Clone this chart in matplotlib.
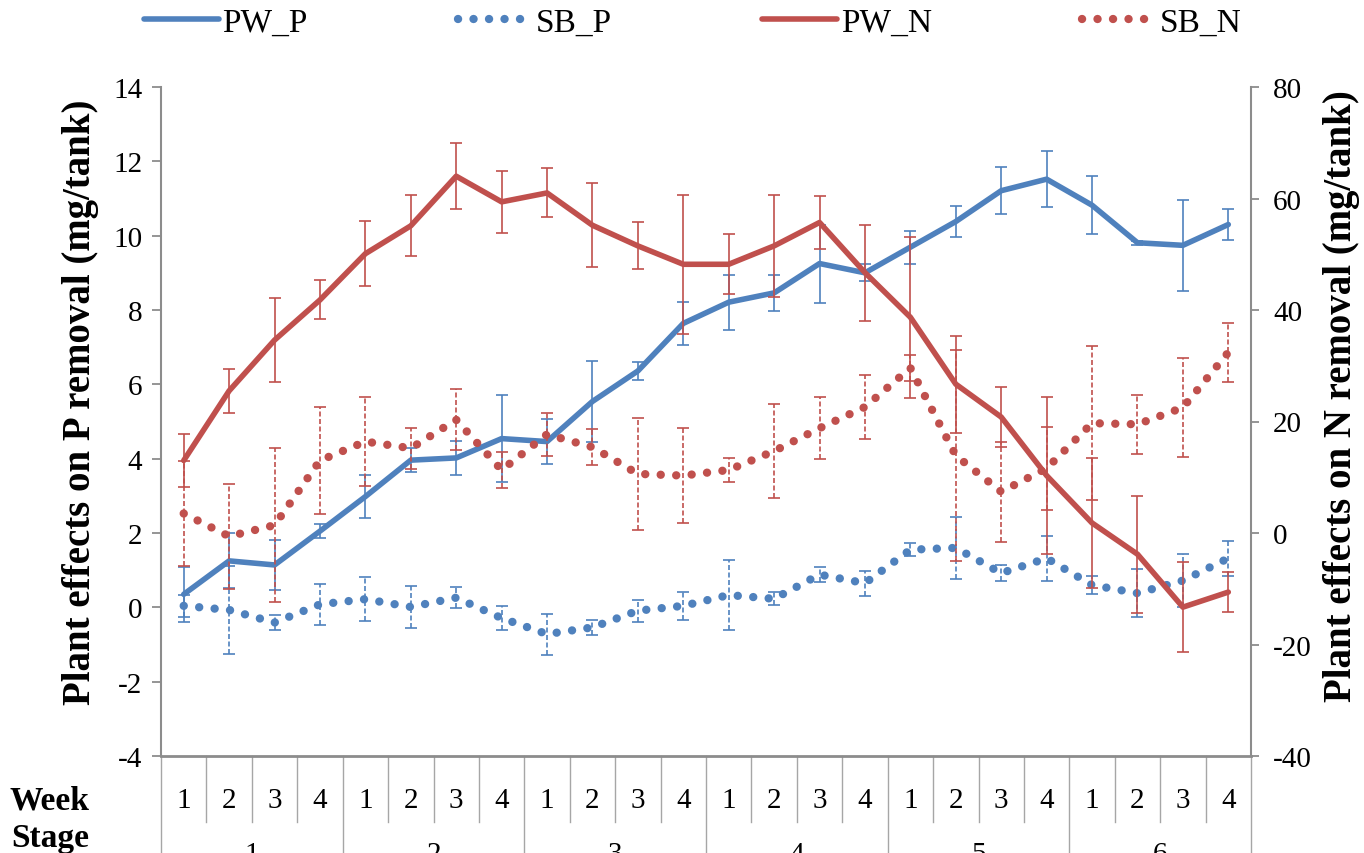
import numpy as np
import matplotlib
matplotlib.use('Agg')
import matplotlib.pyplot as plt
from matplotlib.transforms import blended_transform_factory

# 字体: Times 风格
plt.rcParams['font.family'] = ['Liberation Serif', 'DejaVu Serif']
plt.rcParams['axes.unicode_minus'] = False

# 类别
weeks = ['1', '2', '3', '4'] * 6
stages = ['1', '2', '3', '4', '5', '6']

# P removal (左轴)
pw_p = [0.35, 1.25, 1.14, 2.05, 2.98, 3.96, 4.02, 4.54, 4.46, 5.54, 6.36, 7.64,
        8.21, 8.46, 9.25, 9.0, 9.69, 10.38, 11.21, 11.52, 10.82, 9.81, 9.74, 10.3]
pw_p_err = [0.74, 0.74, 0.67, 0.18, 0.58, 0.33, 0.45, 1.18, 0.6, 1.1, 0.23, 0.57,
            0.74, 0.49, 1.05, 0.23, 0.44, 0.41, 0.63, 0.76, 0.78, 0.05, 1.22, 0.43]
sb_p = [0.04, -0.07, -0.41, 0.08, 0.22, 0.01, 0.26, -0.29, -0.72, -0.54, -0.09, 0.04,
        0.33, 0.23, 0.88, 0.65, 1.55, 1.6, 0.92, 1.32, 0.6, 0.38, 0.72, 1.32]
sb_p_err = [0.29, 1.18, 0.21, 0.55, 0.6, 0.57, 0.29, 0.32, 0.55, 0.2, 0.3, 0.38,
            0.95, 0.18, 0.2, 0.34, 0.17, 0.84, 0.22, 0.6, 0.24, 0.65, 0.72, 0.47]

# N removal (右轴)
pw_n = [13.0, 25.5, 34.6, 41.8, 50.1, 55.1, 64.0, 59.4, 61.0, 55.2, 51.5, 48.2,
        48.2, 51.5, 55.7, 46.7, 38.7, 26.7, 20.8, 10.3, 1.8, -3.8, -13.3, -10.6]
pw_n_err = [4.8, 4.0, 7.5, 3.5, 5.8, 5.5, 5.9, 5.5, 4.4, 7.5, 4.2, 12.5,
            5.4, 9.2, 4.7, 8.6, 14.4, 8.7, 5.3, 14.1, 11.7, 10.5, 8.1, 3.6]
sb_n = [3.5, -0.6, 1.4, 13.0, 16.4, 15.2, 20.3, 11.3, 17.7, 15.4, 10.6, 10.3,
        11.3, 14.7, 18.8, 22.6, 29.6, 13.9, 7.4, 11.6, 19.7, 19.5, 22.5, 32.4]
sb_n_err = [9.4, 9.45, 13.8, 9.6, 7.95, 3.7, 5.5, 3.3, 3.8, 3.2, 10.1, 8.5,
            2.1, 8.4, 5.6, 5.7, 2.3, 18.9, 9.0, 7.5, 13.8, 5.3, 8.9, 5.3]

blue = '#4F81BD'
red = '#C0504D'
grey = '#8C8C8C'

W, H = 1364, 854
fig = plt.figure(figsize=(W / 100, H / 100), dpi=100)
ax = fig.add_axes([161 / W, 1 - 757 / H, (1251 - 161) / W, (757 - 88) / H])
ax2 = ax.twinx()

x = np.arange(len(weeks)) + 0.5


def draw(axis, vals, errs, color, dotted):
    if dotted:
        line, = axis.plot(x, vals, color=color, lw=6, linestyle=(0, (0.01, 1.85)),
                          dash_capstyle='round')
    else:
        line, = axis.plot(x, vals, color=color, lw=4, solid_capstyle='round',
                          solid_joinstyle='round')
    eb = axis.errorbar(x, vals, yerr=errs, fmt='none', ecolor=color,
                       elinewidth=1.2, capsize=4.5, capthick=1.2)
    if dotted:
        eb[2][0].set_linestyle((0, (3, 1.5)))
    return line


l1 = draw(ax, pw_p, pw_p_err, blue, False)
l2 = draw(ax, sb_p, sb_p_err, blue, True)
l3 = draw(ax2, pw_n, pw_n_err, red, False)
l4 = draw(ax2, sb_n, sb_n_err, red, True)

# 轴设置
ax.set_xlim(0, 24)
ax.set_ylim(-4, 14)
ax.set_yticks(range(-4, 15, 2))
ax2.set_ylim(-40, 80)
ax2.set_yticks(range(-40, 81, 20))
ax.set_xticks([])

for s in ['top', 'right']:
    ax.spines[s].set_visible(False)
for s in ['top', 'left', 'bottom']:
    ax2.spines[s].set_visible(False)
ax.spines['left'].set_color(grey)
ax.spines['left'].set_linewidth(1.5)
ax.spines['bottom'].set_color(grey)
ax.spines['bottom'].set_linewidth(2)
ax2.spines['right'].set_color(grey)
ax2.spines['right'].set_linewidth(1.5)

ax.tick_params(axis='y', direction='out', length=6.5, width=1.3, color=grey,
               labelsize=21, pad=7)
ax2.tick_params(axis='y', direction='out', length=6, width=1.3, color=grey,
                labelsize=21, pad=10)

ax.set_ylabel('Plant effects on P removal (mg/tank)', fontsize=28,
              fontweight='bold', labelpad=10)
ax2.set_ylabel('Plant effects on N removal (mg/tank)', fontsize=28,
               fontweight='bold', labelpad=8)
ax.yaxis.label.set_y(0.53)
ax2.yaxis.label.set_y(0.54)

# 底部分类表
trans = blended_transform_factory(ax.transData, fig.transFigure)
y_axis = 1 - 757 / H
y_week = 1 - 823 / H
for i in range(len(weeks) + 1):
    y0 = 0 if i % 4 == 0 else y_week
    ax.plot([i, i], [y0, y_axis], transform=trans, color='#A6A6A6', lw=1,
            clip_on=False)
for i, w in enumerate(weeks):
    ax.text(x[i], 1 - 801 / H, w, transform=trans, ha='center', va='center',
            fontsize=21)
for j, s in enumerate(stages):
    ax.text(4 * j + 2, 1 - 842 / H, s, transform=trans, ha='center', va='top',
            fontsize=21)
fig.text(50 / W, 1 - 801 / H, 'Week', fontsize=24, fontweight='bold',
         ha='center', va='center')
fig.text(50 / W, 1 - 839 / H, 'Stage', fontsize=24, fontweight='bold',
         ha='center', va='center')

ax.set_xlim(0, 24)

# 图例
fig.legend([l1, l2, l3, l4], ['PW_P', 'SB_P', 'PW_N', 'SB_N'],
           loc='upper center', bbox_to_anchor=(0.508, 1.025), ncol=4,
           frameon=False, fontsize=24, handlelength=2.25, handletextpad=0.1,
           columnspacing=4.5)

fig.savefig('out.png', dpi=100)
